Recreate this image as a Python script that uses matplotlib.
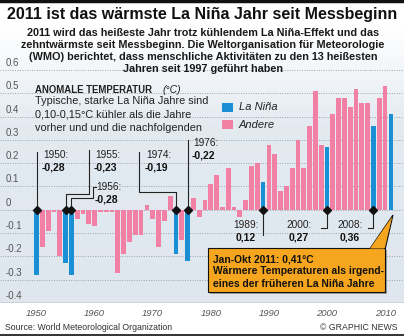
import numpy as np
import matplotlib
matplotlib.use("Agg")
import matplotlib.pyplot as plt
from matplotlib.patches import Rectangle, Polygon
from matplotlib.lines import Line2D

# annual temperature anomaly (°C)
years = list(range(1950, 2012))
anomaly = [-0.28, -0.16, -0.09, -0.01, -0.20, -0.23, -0.28, -0.04, -0.02, -0.06,
           -0.07, -0.01, -0.01, -0.01, -0.27, -0.19, -0.14, -0.11, -0.11, 0.02,
           -0.04, -0.16, -0.05, 0.06, -0.19, -0.13, -0.22, 0.05, -0.03, 0.04,
           0.11, 0.15, 0.01, 0.18, 0.01, -0.03, 0.04, 0.19, 0.20, 0.12,
           0.28, 0.24, 0.08, 0.10, 0.18, 0.30, 0.18, 0.36, 0.51, 0.28,
           0.27, 0.41, 0.48, 0.48, 0.44, 0.52, 0.46, 0.46, 0.36, 0.48,
           0.53, 0.41]
la_nina_years = [1950, 1955, 1956, 1974, 1976, 1989, 2000, 2008, 2011]
la_nina_labels = ["-0,28", "-0,23", "-0,28", "-0,19", "-0,22", "0,12", "0,27", "0,36"]
yticks = [-0.4, -0.3, -0.2, -0.1, 0, 0.1, 0.2, 0.3, 0.4, 0.5, 0.6]
xticks = [1950, 1960, 1970, 1980, 1990, 2000, 2010]

BLUE = "#1b8fd3"
PINK = "#f27fa4"
ORANGE = "#f6a51e"
SANS = ["Liberation Sans", "DejaVu Sans"]

W, H = 404, 336
fig = plt.figure(figsize=(W / 100, H / 100), dpi=100)
fig.patch.set_facecolor("white")


def fx(px):
    return px / W


def fy(py):
    return 1 - py / H


ax = fig.add_axes([0, fy(303), 1, (303 - 28) / H])
ax.set_xlim(1950 - 36.5 / 5.81, 1950 + (W - 36.5) / 5.81)
ax.set_ylim(-0.4, 0.78)
ax.axis("off")

# background gradient
top = np.array([1.0, 1.0, 1.0])
mid = np.array([0.89, 0.92, 0.945])
bot = np.array([0.875, 0.905, 0.935])
t = np.linspace(0, 1, 200)[:, None]
grad = np.where(t < 0.35, top + (mid - top) * (t / 0.35), mid + (bot - mid) * ((t - 0.35) / 0.65))
ax.imshow(grad[:, None, :], extent=[0, 1, 0, 1], transform=ax.transAxes,
          aspect="auto", zorder=0)

for v in yticks:
    if v > -0.4:
        ax.axhline(v, color="#9aa3ab", lw=0.7, ls=(0, (1, 1.5)), zorder=1)
    lab = "0" if v == 0 else f"{v:.1f}"
    ax.text(0.015, v + 0.03, lab, transform=ax.get_yaxis_transform(),
            fontsize=7, color="#555555", family=SANS, va="center", ha="left", zorder=2)
ax.axhline(-0.4, color="#888888", lw=1.0, zorder=2)

colors = [BLUE if y in la_nina_years else PINK for y in years]
ax.bar(years, anomaly, width=0.82, color=colors, zorder=3, linewidth=0)

# diamonds on the zero line
ax.plot(la_nina_years[:-1], [0] * 8, ls="none", marker="D", ms=4.5, color="#111111", zorder=6)

# leader lines (data coords)
lk = dict(color="#222222", lw=0.8, zorder=5)
ax.plot([1950, 1950], [0, 0.248], **lk)
ax.plot([1955, 1955, 1959.04, 1959.04], [0, 0.068, 0.068, 0.257], **lk)
ax.plot([1956, 1956, 1959.7, 1959.7, 1960.3], [0, 0.051, 0.051, 0.098, 0.098], **lk)
ax.plot([1974, 1974, 1967.64, 1967.64], [0, 0.076, 0.076, 0.248], **lk)
ax.plot([1976, 1976], [0, 0.30], **lk)
ax.plot([1989, 1989], [0, -0.11], **lk)
ax.plot([2000, 2000, 1998.97], [0, -0.078, -0.078], **lk)
ax.plot([2008, 2008, 2007.06], [0, -0.078, -0.078], **lk)

# x tick labels
for xt in xticks:
    fig.text(fx(36.5 + (xt - 1950) * 5.81), fy(313), str(xt), fontsize=6.8, style="italic",
             color="#555555", family=SANS, ha="center", va="center")

# title and subtitle
fig.add_artist(Line2D([0, 1], [fy(1), fy(1)], color="#111111", lw=2.5))
fig.text(fx(202), fy(14), "2011 ist das wärmste La Niña Jahr seit Messbeginn",
         fontsize=11.5, weight="bold", family=SANS, ha="center", va="center", color="#111111")
sub = ["2011 wird das heißeste Jahr trotz kühlendem La Niña-Effekt und das",
       "zehntwärmste seit Messbeginn. Die Weltorganisation für Meteorologie",
       "(WMO) berichtet, dass menschliche Aktivitäten zu den 13 heißesten",
       "Jahren seit 1997 geführt haben"]
for i, s in enumerate(sub):
    fig.text(fx(203), fy(32.5 + i * 12.3), s, fontsize=7.8, weight="bold", family=SANS,
             ha="center", va="center", color="#1a1a1a")

# description
fig.text(fx(35), fy(90), "ANOMALE TEMPERATUR", fontsize=6.9, weight="bold", family=SANS,
         ha="left", va="center", color="#222222")
fig.text(fx(163), fy(90), "(°C)", fontsize=7.5, style="italic", family=SANS,
         ha="left", va="center", color="#222222")
desc = ["Typische, starke La Niña Jahre sind", "0,10-0,15°C kühler als die Jahre",
        "vorher und und die nachfolgenden"]
for i, s in enumerate(desc):
    fig.text(fx(35), fy(101 + i * 13.3), s, fontsize=7.8, family=SANS,
             ha="left", va="center", color="#222222")

# legend
for py, c, lab in [(107.5, BLUE, "La Niña"), (124.5, PINK, "Andere")]:
    fig.add_artist(Rectangle((fx(222), fy(py + 4.5)), 11 / W, 9 / H, transform=fig.transFigure,
                             facecolor=c, edgecolor="none"))
    fig.text(fx(239), fy(py), lab, fontsize=8, style="italic", family=SANS,
             ha="left", va="center", color="#222222")

# La Niña year labels
above = [(1950, 43), (1955, 95), (1956, 96), (1974, 146), (1976, 193)]
above_y = {1950: 155, 1955: 155, 1956: 187, 1974: 155, 1976: 143}
for (yr, px), lab in zip(above, la_nina_labels[:5]):
    py = above_y[yr]
    fig.text(fx(px), fy(py), f"{yr}:", fontsize=7.3, family=SANS, ha="left", va="center",
             color="#222222")
    fig.text(fx(px - 1), fy(py + 12), lab, fontsize=7.5, weight="bold", family=SANS,
             ha="left", va="center", color="#111111")
below = [(1989, 246), (2000, 299), (2008, 350)]
for (yr, px), lab in zip(below, la_nina_labels[5:]):
    fig.text(fx(px), fy(225), f"{yr}:", fontsize=7.3, family=SANS, ha="center", va="center",
             color="#222222")
    fig.text(fx(px), fy(237.5), lab, fontsize=7.5, weight="bold", family=SANS,
             ha="center", va="center", color="#111111")

# callout for 2011
fig.add_artist(Rectangle((fx(210), fy(294)), 177 / W, 44 / H, transform=fig.transFigure,
                         facecolor="#555555", edgecolor="none", alpha=0.5))
fig.add_artist(Polygon([(fx(369), fy(250)), (fx(393), fy(215)), (fx(385), fy(250))],
                       closed=True, transform=fig.transFigure, facecolor=ORANGE,
                       edgecolor="#111111", lw=0.8))
fig.add_artist(Rectangle((fx(208), fy(292)), 177 / W, 44 / H, transform=fig.transFigure,
                         facecolor=ORANGE, edgecolor="#111111", lw=0.8))
fig.add_artist(Polygon([(fx(370), fy(248.5)), (fx(392), fy(217)), (fx(384), fy(248.5))],
                       closed=True, transform=fig.transFigure, facecolor=ORANGE,
                       edgecolor="none"))
box = ["Jan-Okt 2011: 0,41°C", "Wärmere Temperaturen als irgend-",
       "eines der früheren La Niña Jahre"]
for i, s in enumerate(box):
    fig.text(fx(213), fy(259 + i * 12.3), s, fontsize=7.4, weight="bold", family=SANS,
             ha="left", va="center", color="#111111")

# footer
fig.text(fx(5), fy(327), "Source: World Meteorological Organization", fontsize=6.3,
         family=SANS, ha="left", va="center", color="#333333")
fig.text(fx(397), fy(327), "© GRAPHIC NEWS", fontsize=6.3, family=SANS,
         ha="right", va="center", color="#333333")
fig.add_artist(Line2D([0, 1], [fy(334.5), fy(334.5)], color="#111111", lw=1.2))

fig.savefig("out.png", dpi=100)
